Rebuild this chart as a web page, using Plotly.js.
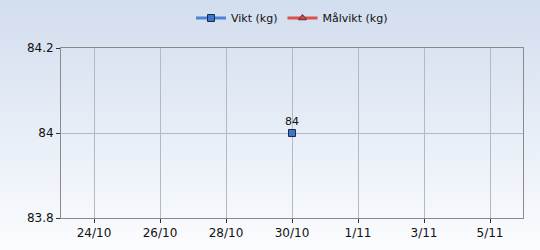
<!DOCTYPE html>
<html>
<head>
<meta charset="utf-8">
<script src="https://cdn.plot.ly/plotly-3.0.1.min.js"></script>
<style>
html,body{margin:0;padding:0;}
#chart{width:540px;height:250px;background:linear-gradient(to bottom,#d2ddee 0%,#e6edf6 50%,#fbfcfe 100%);}
</style>
</head>
<body>
<div id="chart"></div>
<script>
const weightDates = ['2023-10-30'];
const weightValues = [84];
const goalDates = ['2023-10-30'];
const goalValues = [null];
const tickDates = ['2023-10-24','2023-10-26','2023-10-28','2023-10-30','2023-11-01','2023-11-03','2023-11-05'];
const tickLabels = ['24/10','26/10','28/10','30/10','1/11','3/11','5/11'];
const xRange = ['2023-10-23','2023-11-06'];
const yRange = [83.8, 84.2];

const font = {family:'DejaVu Sans, Verdana, sans-serif', size:11, color:'#111'};

const traces = [
  {
    name:'Vikt (kg)', type:'scatter', mode:'lines+markers+text',
    x:weightDates, y:weightValues,
    text:weightValues.map(v=>String(v)), textposition:'top center',
    textfont:{family:'DejaVu Sans, Verdana, sans-serif', size:11, color:'#111'},
    line:{color:'#4a86d8', width:3},
    marker:{symbol:'square', size:7, color:'#3f74c8', line:{color:'#1a2a50', width:1}},
    cliponaxis:false
  },
  {
    name:'Målvikt (kg)', type:'scatter', mode:'lines+markers',
    x:goalDates, y:goalValues,
    line:{color:'#d9534a', width:3},
    marker:{symbol:'triangle-up', size:7, color:'#c0504d', line:{color:'#6a2a28', width:1}}
  }
];

const layout = {
  width:540, height:250,
  margin:{l:61, r:17, t:48, b:32},
  paper_bgcolor:'rgba(0,0,0,0)',
  plot_bgcolor:'rgba(0,0,0,0)',
  font:font,
  showlegend:true,
  legend:{orientation:'h', x:0.5, xanchor:'center', y:0.986, yref:'container', yanchor:'top',
          bgcolor:'rgba(0,0,0,0)', font:{family:'DejaVu Sans, Verdana, sans-serif', size:11, color:'#111'},
          itemwidth:30, tracegroupgap:0},
  xaxis:{
    type:'date', range:xRange,
    tickvals:tickDates, ticktext:tickLabels,
    showgrid:true, gridcolor:'#b4b8c0', gridwidth:1,
    showline:true, linecolor:'#8a8a8a', linewidth:1, mirror:true,
    ticks:'outside', ticklen:4, tickcolor:'#333',
    zeroline:false,
    tickfont:{family:'DejaVu Sans, Verdana, sans-serif', size:12, color:'#111'}
  },
  yaxis:{
    range:yRange, tickvals:[83.8,84,84.2], ticktext:['83.8','84','84.2'],
    showgrid:true, gridcolor:'#b4b8c0', gridwidth:1,
    showline:true, linecolor:'#8a8a8a', linewidth:1, mirror:true,
    ticks:'outside', ticklen:4, tickcolor:'#333',
    zeroline:false,
    tickfont:{family:'DejaVu Sans, Verdana, sans-serif', size:12, color:'#111'}
  }
};

Plotly.newPlot('chart', traces, layout, {displayModeBar:false, staticPlot:true});
</script>
</body>
</html>
